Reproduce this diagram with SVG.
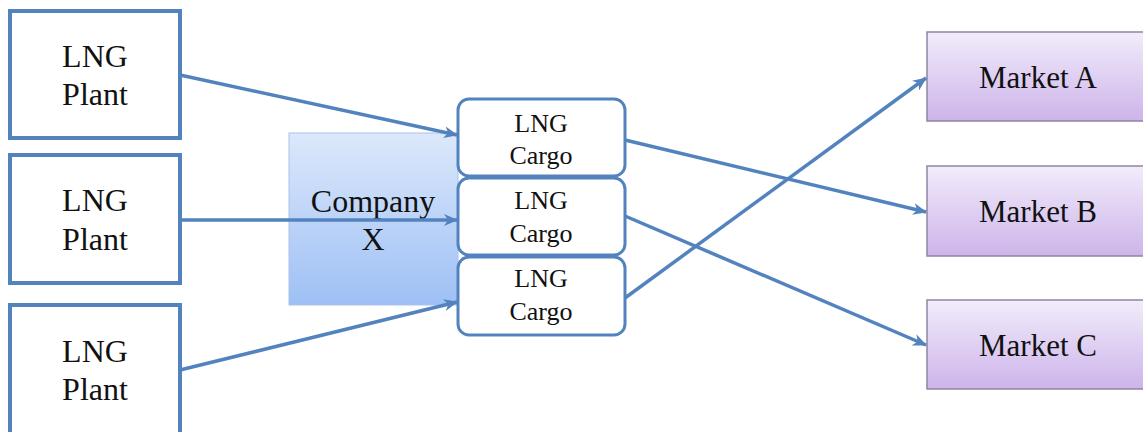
<svg xmlns="http://www.w3.org/2000/svg" width="1143" height="432" viewBox="0 0 1143 432">
<defs>
<linearGradient id="gBlue" x1="0" y1="0" x2="0" y2="1"><stop offset="0" stop-color="#dce8fb"/><stop offset="1" stop-color="#9ec0f5"/></linearGradient>
<linearGradient id="gPurple" x1="0" y1="0" x2="0" y2="1"><stop offset="0" stop-color="#f2ecfb"/><stop offset="1" stop-color="#cdb4ea"/></linearGradient>
<marker id="arr" markerWidth="14" markerHeight="12" refX="13" refY="6" orient="auto" markerUnits="userSpaceOnUse"><path d="M0,0 L14,6 L0,12 L4,6 Z" fill="#5383bf"/></marker>
<style>
.plant{fill:#fff;stroke:#5383bf;stroke-width:4}
.cargo{fill:#fff;stroke:#5383bf;stroke-width:3}
.comp{fill:url(#gBlue);stroke:#a9c2e8;stroke-width:1}
.mkt{fill:url(#gPurple);stroke:#8f86a3;stroke-width:1.5}
text{font-family:"Liberation Serif",serif;fill:#111;text-anchor:middle}
.t30{font-size:32px}
.t26{font-size:26px}
.tc{font-size:32px}
.tm{font-size:31px}
.conn line{stroke:#5383bf;stroke-width:3.5;marker-end:url(#arr)}
</style>
</defs>
<g id="plant1"><rect class="plant" x="10" y="11" width="170" height="127"/><text class="t30" x="95" y="67">LNG</text><text class="t30" x="95" y="105">Plant</text></g>
<g id="plant2"><rect class="plant" x="10" y="155" width="170" height="128"/><text class="t30" x="95" y="211">LNG</text><text class="t30" x="95" y="250">Plant</text></g>
<g id="plant3"><rect class="plant" x="10" y="305" width="170" height="140"/><text class="t30" x="95" y="362">LNG</text><text class="t30" x="95" y="400">Plant</text></g>
<g id="companyX"><rect class="comp" x="289" y="133" width="169" height="172"/><text class="tc" x="373" y="212">Company</text><text class="tc" x="373" y="250">X</text></g>
<g id="cargo1"><rect class="cargo" x="458" y="99" width="167" height="77" rx="11"/><text class="t26" x="541" y="132">LNG</text><text class="t26" x="541" y="164">Cargo</text></g>
<g id="cargo2"><rect class="cargo" x="458" y="178" width="167" height="77" rx="11"/><text class="t26" x="541" y="209">LNG</text><text class="t26" x="541" y="242">Cargo</text></g>
<g id="cargo3"><rect class="cargo" x="458" y="257" width="167" height="78" rx="11"/><text class="t26" x="541" y="287">LNG</text><text class="t26" x="541" y="320">Cargo</text></g>
<g id="marketA"><rect class="mkt" x="927" y="32" width="230" height="89"/><text class="tm" x="1038" y="88">Market A</text></g>
<g id="marketB"><rect class="mkt" x="927" y="166" width="230" height="90"/><text class="tm" x="1038" y="222">Market B</text></g>
<g id="marketC"><rect class="mkt" x="927" y="300" width="230" height="89"/><text class="tm" x="1038" y="356">Market C</text></g>
<g id="connectors" class="conn">
<line x1="180" y1="75" x2="457" y2="135"/>
<line x1="180" y1="220" x2="457" y2="220"/>
<line x1="180" y1="370" x2="457" y2="302"/>
<line x1="625" y1="140" x2="926" y2="212"/>
<line x1="625" y1="216" x2="926" y2="345"/>
<line x1="625" y1="298" x2="926" y2="78"/>
</g>
</svg>
